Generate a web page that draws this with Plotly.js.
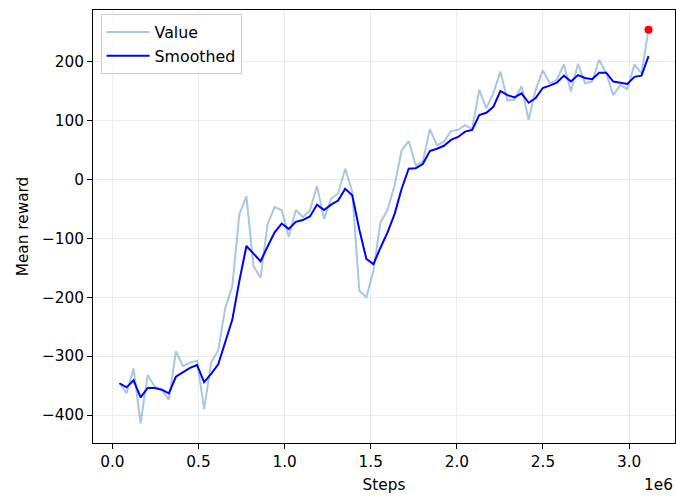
<!DOCTYPE html>
<html>
<head>
<meta charset="utf-8">
<script src="https://cdn.plot.ly/plotly-3.0.1.min.js"></script>
<style>
html,body{margin:0;padding:0;background:#fff;}
#chart{width:676px;height:497px;}
</style>
</head>
<body>
<div id="chart"></div>
<script>
const steps = [40960, 81920, 122880, 163840, 204800, 245760, 286720, 327680, 368640, 409600,
  450560, 491520, 532480, 573440, 614400, 655360, 696320, 737280, 778240, 819200,
  860160, 901120, 942080, 983040, 1024000, 1064960, 1105920, 1146880, 1187840, 1228800,
  1269760, 1310720, 1351680, 1392640, 1433600, 1474560, 1515520, 1556480, 1597440, 1638400,
  1679360, 1720320, 1761280, 1802240, 1843200, 1884160, 1925120, 1966080, 2007040, 2048000,
  2088960, 2129920, 2170880, 2211840, 2252800, 2293760, 2334720, 2375680, 2416640, 2457600,
  2498560, 2539520, 2580480, 2621440, 2662400, 2703360, 2744320, 2785280, 2826240, 2867200,
  2908160, 2949120, 2990080, 3031040, 3072000, 3112960];

const value = [-346, -363, -321, -414, -332, -352, -357, -374, -292, -317,
  -311, -308, -390, -311, -290, -218, -181, -59, -29, -147,
  -167, -76, -47, -52, -98, -52, -64, -53, -11, -67,
  -33, -24, 18, -21, -189, -200, -155, -73, -52, -10,
  49, 65, 24, 30, 85, 58, 64, 82, 84, 92,
  85, 152, 121, 146, 183, 134, 135, 158, 101, 152,
  185, 163, 169, 195, 149, 196, 163, 166, 203, 180,
  143, 160, 153, 195, 180, 254];

const smoothed = [-346, -353, -341, -370, -354, -354, -357, -363, -335, -327,
  -320, -315, -344, -330, -314, -276, -238, -172, -113, -126,
  -139, -114, -90, -75, -84, -72, -69, -63, -43, -52,
  -43, -36, -16, -27, -85, -135, -144, -116, -90, -59,
  -16, 18, 19, 26, 48, 52, 57, 67, 72, 81,
  84, 109, 113, 123, 150, 143, 139, 146, 130, 138,
  155, 159, 164, 176, 166, 177, 172, 170, 181, 181,
  166, 164, 162, 174, 176, 209];

const lastStep = [3112960];
const lastValue = [254];

const xTickVals = [0, 500000, 1000000, 1500000, 2000000, 2500000, 3000000];
const xTickText = ["0.0", "0.5", "1.0", "1.5", "2.0", "2.5", "3.0"];
const yTickVals = [-400, -300, -200, -100, 0, 100, 200];
const yTickText = ["\u2212400", "\u2212300", "\u2212200", "\u2212100", "0", "100", "200"];

const font = {family: "DejaVu Sans", size: 15.3, color: "#000"};
const legendFont = {family: "DejaVu Sans", size: 15.8, color: "#000"};

const traces = [
  {x: steps, y: value, type: "scatter", mode: "lines", name: "Value",
   line: {color: "rgba(31,119,180,0.4)", width: 2}},
  {x: steps, y: smoothed, type: "scatter", mode: "lines", name: "Smoothed",
   line: {color: "#0000ff", width: 2}},
  {x: lastStep, y: lastValue, type: "scatter", mode: "markers", showlegend: false,
   marker: {color: "#ff0000", size: 8}}
];

const axisCommon = {
  showline: true, mirror: true, linecolor: "#000", linewidth: 1,
  ticks: "outside", ticklen: 5, tickcolor: "#000", tickwidth: 1,
  showgrid: true, gridcolor: "#ebebeb", gridwidth: 1, zeroline: false,
  tickfont: font
};

const layout = {
  width: 676, height: 497,
  margin: {l: 93, r: 1, t: 10, b: 54},
  paper_bgcolor: "#fff", plot_bgcolor: "#fff",
  font: font,
  showlegend: true,
  legend: {x: 0.013, y: 0.99, xanchor: "left", yanchor: "top",
    bgcolor: "rgba(255,255,255,0.8)", bordercolor: "#cccccc", borderwidth: 1,
    font: legendFont, tracegroupgap: 0, itemwidth: 43},
  xaxis: Object.assign({}, axisCommon, {
    range: [-112640, 3266560], tickmode: "array", tickvals: xTickVals, ticktext: xTickText,
    title: {text: "Steps", font: font, standoff: 8}
  }),
  yaxis: Object.assign({}, axisCommon, {
    range: [-447.4, 287.4], tickmode: "array", tickvals: yTickVals, ticktext: yTickText,
    title: {text: "Mean reward", font: font, standoff: 9}
  }),
  annotations: [
    {text: "1e6", xref: "paper", yref: "paper", x: 1, y: 0, xanchor: "right", yanchor: "top",
     yshift: -31, showarrow: false, font: font}
  ]
};

Plotly.newPlot("chart", traces, layout, {staticPlot: true, displayModeBar: false});
</script>
</body>
</html>
